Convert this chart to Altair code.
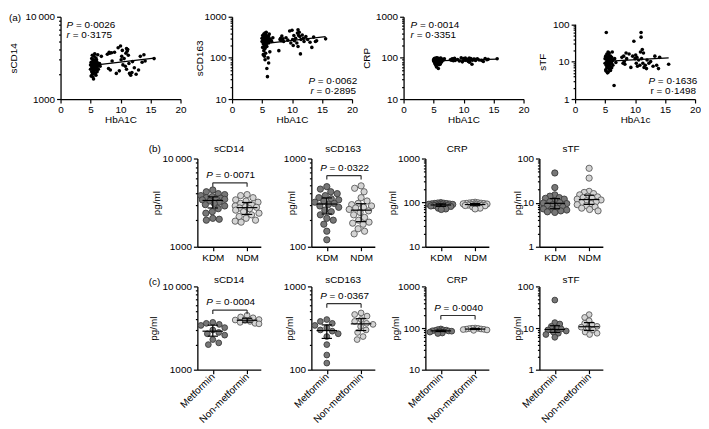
import math
import altair as alt
import pandas as pd

FONT = "Liberation Sans"
FS = 10
DARK_FILL, DARK_STROKE = "#777777", "#3a3a3a"
LIGHT_FILL, LIGHT_STROKE = "#d4d4d4", "#5a5a5a"
BR_COLOR = "#333333"

# ---------------- (a) correlation with HbA1C ----------------
hba1c = [5.0, 5.0, 5.1, 5.1, 5.2, 5.2, 5.2, 5.3, 5.3, 5.3, 5.4, 5.4, 5.4, 5.4, 5.5, 5.5, 5.5, 5.5, 5.5,
         5.6, 5.6, 5.6, 5.6, 5.7, 5.7, 5.7, 5.7, 5.8, 5.8, 5.8, 5.8, 5.9, 5.9, 5.9, 5.9, 6.0, 6.0, 6.0,
         6.1, 6.1, 6.1, 6.2, 6.2, 6.3, 6.3, 6.5, 6.6, 6.8,
         7.8, 8.0, 8.1, 8.2, 8.3, 8.5, 8.6, 9.3, 9.6, 9.8, 10.0, 10.1, 10.2, 10.3, 10.4, 10.6, 10.8,
         11.0, 11.0, 11.2, 11.3, 11.4, 11.5, 11.7, 11.9, 12.0, 12.3, 12.6, 13.0, 13.3, 13.6, 13.9, 14.1,
         15.6, 9.0, 10.9, 11.1]
a_sCD14 = [2300, 2600, 1900, 2800, 2450, 3100, 2150, 2700, 2000, 3400, 2550, 1850, 2900, 2350, 2650, 2200,
           3000, 2450, 1750, 2750, 2400, 3300, 2100, 2600, 2900, 2250, 3550, 2500, 2050, 2800, 2350, 2700,
           1950, 3150, 2450, 2600, 2250, 3000, 2400, 2800, 2150, 2550, 3450, 2650, 2300, 2700, 2500, 3300,
           3500, 2350, 3700, 3600, 2250, 3650, 2900, 2050, 4200, 2200, 4400, 3000, 3300, 3900, 2600, 3100,
           2500, 4100, 2300, 4000, 3400, 2700, 2050, 1950, 2100, 2850, 2400, 2000, 2250, 3300, 2800, 3450,
           2900, 3100, 3700, 3600, 3800]
a_sCD163 = [250, 300, 180, 350, 120, 280, 220, 380, 150, 300, 260, 110, 330, 200, 400, 240, 290, 170, 90, 310,
            230, 370, 130, 270, 350, 210, 420, 250, 55, 300, 190, 280, 35, 320, 240, 260, 100, 300, 230, 340,
            75, 260, 380, 290, 140, 270, 250, 310,
            150, 280, 300, 260, 340, 290, 250, 270, 450, 230, 470, 280, 200, 350, 260, 300, 230, 480, 190,
            420, 330, 125, 280, 360, 300, 250, 330, 280, 240, 180, 320, 250, 260, 290, 310, 400, 350]
a_CRP = [90, 85, 95, 80, 88, 98, 75, 92, 70, 96, 86, 65, 94, 82, 100, 84, 90, 78, 60, 93,
         86, 97, 72, 89, 95, 80, 99, 87, 55, 91, 83, 94, 68, 96, 85, 88, 76, 92, 84, 97,
         70, 88, 99, 86, 78, 92, 88, 95,
         90, 88, 95, 92, 85, 98, 86, 84, 100, 80, 97, 88, 93, 99, 87, 91, 82, 98, 78, 96,
         90, 70, 88, 94, 92, 86, 95, 89, 87, 82, 97, 90, 93, 95, 91, 98, 92]
a_sTF = [9, 12, 6, 14, 8, 60, 5.5, 11, 7, 16, 10, 5, 13, 8.5, 18, 9.5, 12, 7.5, 5.2, 11,
         9, 15, 6.5, 10, 13, 8, 17, 10.5, 6, 12, 8.8, 11.5, 5.8, 14, 9.2, 10, 7, 12.5, 9, 13,
         6.8, 10.5, 18, 11, 8, 2.3, 12, 9.5,
         13, 9, 14, 10, 8.5, 17, 12, 7, 14, 35, 12, 15, 9, 13, 7.5, 11, 8, 60, 45, 21, 9, 17, 7,
         8, 6.5, 11, 9, 10, 7.5, 14, 8, 6.5, 13, 8.5, 16, 18, 12]

a_names = ["sCD14", "sCD163", "CRP", "sTF"]
a_xtitle = ["HbA1C", "HbA1C", "HbA1C", "HbA1c"]
a_domain = [(1000, 10000), (10, 1000), (10, 1000), (1, 100)]
a_P = ["0·0026", "0·0062", "0·0014", "0·1636"]
a_r = ["0·3175", "0·2895", "0·3351", "0·1498"]
a_r_italic = [True, True, True, False]

# ---------------- (b) KDM vs NDM ----------------
b_groups = ["KDM", "NDM"]
b_sCD14 = ([4400, 4200, 4000, 3900, 3800, 3700, 3600, 3550, 3500, 3450, 3400, 3300, 3200, 3100, 3000, 2900,
            2700, 2500, 2400, 2100, 2050, 2000],
           [3900, 3800, 3600, 3400, 3300, 3200, 3100, 3000, 2900, 2850, 2800, 2750, 2700, 2600, 2500, 2400,
            2300, 2200, 2100, 2000, 1950, 1900])
b_sCD163 = ([480, 450, 420, 400, 380, 360, 350, 340, 330, 320, 310, 300, 290, 280, 260, 250, 230, 210, 200,
             180, 150, 120],
            [490, 460, 420, 360, 330, 310, 300, 290, 280, 275, 265, 255, 245, 230, 215, 200, 190, 185, 180,
             160, 150, 140])
b_CRP = ([100, 98, 97, 96, 95, 94, 93, 92, 91, 90, 89, 88, 87, 86, 85, 84, 82, 80, 78, 75, 72, 70],
         [102, 100, 99, 98, 97, 96, 95, 94, 93, 92, 91, 90, 89, 88, 87, 86, 85, 83, 80, 78, 75, 72])
b_sTF = ([47, 22, 15, 14, 13, 12.5, 12, 11, 10.5, 10, 9.8, 9.5, 9, 8.5, 8, 7.5, 7.2, 7, 6.8, 6.5, 6.2, 6],
         [60, 36, 18, 17, 16, 15, 14, 13.5, 13, 12.5, 12, 11.5, 11, 10.5, 10, 9.5, 9, 8.5, 8, 7.5, 7, 6.5])
b_bracket = [5300, 640, None, None]
b_P = ["0·0071", "0·0322", None, None]

# ---------------- (c) Metformin vs Non-metformin ----------------
c_groups = ["Metformin", "Non-metformin"]
c_sCD14 = ([3700, 3600, 3500, 3400, 3200, 3000, 2800, 2700, 2600, 2300, 2100, 2000],
           [4500, 4300, 4200, 4000, 3950, 3900, 3800, 3700, 3600, 3550])
c_sCD163 = ([400, 380, 360, 340, 320, 300, 290, 270, 250, 200, 150, 120],
            [480, 460, 440, 400, 380, 360, 350, 330, 300, 280, 250, 230])
c_CRP = ([95, 92, 90, 89, 88, 86, 85, 84, 83, 80, 76, 74],
         [100, 99, 98, 97, 95, 94, 93, 92, 90, 88])
c_sTF = ([47, 13.5, 12.5, 11, 10, 9.5, 9, 8.5, 8, 7.5, 7, 6],
         [21, 18, 15, 13, 12, 11, 10.5, 10, 9, 8, 7.5, 7])
c_bracket = [5200, 620, 200, None]
c_P = ["0·0004", "0·0367", "0·0040", None]

bc_names = ["sCD14", "sCD163", "CRP", "sTF"]
bc_domain = [(1000, 10000), (100, 1000), (10, 1000), (1, 100)]

# ---------------- layout ----------------
WA, HA, SA = 121, 83, 52
WB, HB, HC, SB = 64, 89, 84, 51
SPACER = 87           # offset of rows (b)/(c) relative to row (a)
XMIN, XMAX = -0.45, 1.4
a_tx = [-47, -33, -37, -33]
b_tx = [-41, -20, -33, -22]
c_tx = [-44, -22, -30, -22]

DEC = "abs(log(datum.value)/LN10 - round(log(datum.value)/LN10)) < 0.001"
LBL = ("(" + DEC + ") ? (datum.value >= 10000 ? replace(format(datum.value, ','), ',', '\u2009') "
       ": format(datum.value, 'd')) : ''")


def y_axis(lo, hi, title, tx, ty):
    vals = []
    e0, e1 = round(math.log10(lo)), round(math.log10(hi))
    for e in range(e0, e1):
        for m in range(1, 10):
            vals.append(m * 10 ** e)
    vals.append(hi)
    return alt.Axis(values=vals, labelExpr=LBL, labelOverlap=False,
                    tickSize={"condition": {"test": DEC, "value": 4}, "value": 2},
                    title=title, titleX=tx, titleY=ty, titleAngle=-90,
                    titleBaseline="middle", titleAlign="center")


def note(txt, x, y, italic=False, align="left", baseline="middle"):
    return alt.Chart(alt.Data(values=[{}])).mark_text(
        text=txt, font=FONT, fontSize=FS, fontStyle="italic" if italic else "normal",
        align=align, baseline=baseline, color="black").encode(x=alt.value(x), y=alt.value(y))


def bounds_rule(x, top, bottom):
    return alt.Chart(alt.Data(values=[{}])).mark_rule(opacity=0).encode(
        x=alt.value(x), y=alt.value(top), y2=alt.value(bottom))


df_a = pd.DataFrame({"hba1c": hba1c, "sCD14": a_sCD14, "sCD163": a_sCD163, "CRP": a_CRP, "sTF": a_sTF})

a_text_pos = [((6, 8), (6, 18)), ((WA - 44, 65), (WA - 42, 75)),
              ((7, 8), (7, 18)), ((WA - 47, 65), (WA - 45, 75))]


def panel_a(i):
    name = a_names[i]
    lo, hi = a_domain[i]
    top = 7.5 if name == "sTF" else 0
    ys = alt.Scale(type="log", domain=[lo, hi], nice=False, range=[HA, top])
    yax = y_axis(lo, hi, name, a_tx[i], (HA + top) / 2)
    xs = alt.Scale(domain=[0, 20], nice=False, zero=False)
    xax = alt.Axis(values=[0, 5, 10, 15, 20], title=a_xtitle[i], labelFlush=False, format="d",
                   titleX=WA / 2, titleY=21, titleBaseline="middle", tickSize=4)
    X = alt.X("hba1c:Q", scale=xs, axis=xax)
    Y = alt.Y(f"{name}:Q", scale=ys, axis=yax)
    base = alt.Chart(df_a)
    pts = base.mark_circle(size=13, color="black", opacity=1).encode(x=X, y=Y)
    fit = (base.transform_calculate(ly=f"log(datum['{name}'])/LN10")
           .transform_regression("hba1c", "ly")
           .transform_calculate(**{name: "pow(10, datum.ly)"})
           .mark_line(color="black", strokeWidth=1.3).encode(x=X, y=Y))
    (px, py), (rx, ry) = a_text_pos[i]
    layers = [pts, fit,
              note("P", px, py, italic=True), note("= " + a_P[i], px + 9.5, py),
              note("r", rx, ry, italic=a_r_italic[i]), note("= " + a_r[i], rx + 6.2, ry)]
    if i == 0:
        layers += [note("(a)", -52, 1), bounds_rule(0, -7, HA + 30)]
    return alt.layer(*layers).properties(width=WA, height=HA)


def swarm(vals, ppd, ppu, d, maxoff):
    idx = sorted(range(len(vals)), key=lambda k: -vals[k])
    placed = []
    out = [0.0] * len(vals)
    steps = [0.0]
    s = 0.5
    while s <= maxoff:
        steps += [s, -s]
        s += 0.5
    for n, i in enumerate(idx):
        y = math.log10(vals[i]) * ppd
        cands = steps if n % 2 == 0 else [-c for c in steps]
        chosen, best, bestd = None, 0.0, -1
        for c in cands:
            md = min([math.hypot(c - qx, y - qy) for qx, qy in placed] or [99])
            if md >= d:
                chosen = c
                break
            if md > bestd:
                bestd, best = md, c
        if chosen is None:
            chosen = best
        placed.append((chosen, y))
        out[i] = chosen / ppu
    return out


def spacer(row, H):
    top, bottom = (-30, H + 20) if row == "b" else (-20, H + 57)
    layers = [bounds_rule(SPACER / 2, top, bottom),
              note("(" + row + ")", SPACER + SB - 49, -10 if row == "b" else -4)]
    return alt.layer(*layers).properties(width=SPACER, height=H)


def dot_panel(row, i):
    if row == "b":
        data = [b_sCD14, b_sCD163, b_CRP, b_sTF][i]
        groups, H, tx = b_groups, HB, b_tx[i]
        bracket, ptxt = b_bracket[i], b_P[i]
        title_y, rot = -10, False
    else:
        data = [c_sCD14, c_sCD163, c_CRP, c_sTF][i]
        groups, H, tx = c_groups, HC, c_tx[i]
        bracket, ptxt = c_bracket[i], c_P[i]
        title_y, rot = -6, True
    lo, hi = bc_domain[i]
    ppd = H / math.log10(hi / lo)
    ppu = WB / (XMAX - XMIN)
    dmin = {"sCD14": 6.5, "sCD163": 6.5, "CRP": 2.6, "sTF": 5.0}[bc_names[i]]
    rows = []
    for g in (0, 1):
        vals = data[g]
        offs = swarm(vals, ppd, ppu, dmin, 12)
        for v, o in zip(vals, offs):
            rows.append({"g": g, "v": v, "x": g + o})
    df = pd.DataFrame(rows)
    ys = alt.Scale(type="log", domain=[lo, hi], nice=False)
    yax = y_axis(lo, hi, "pg/ml", tx, H / 2)
    xs = alt.Scale(domain=[XMIN, XMAX], nice=False, zero=False)
    lab = f"datum.value == 0 ? '{groups[0]}' : '{groups[1]}'"
    if rot:
        xax = alt.Axis(values=[0, 1], labelExpr=lab, title=None, labelFlush=False, tickSize=4,
                       labelAngle=-45, labelAlign="right", labelBaseline="middle", labelPadding=1)
    else:
        xax = alt.Axis(values=[0, 1], labelExpr=lab, title=None, labelFlush=False, tickSize=4)

    def X(f):
        return alt.X(f"{f}:Q", scale=xs, axis=xax)

    def Y(f):
        return alt.Y(f"{f}:Q", scale=ys, axis=yax)

    size = 40 if row == "b" else 34
    pts = alt.Chart(df).mark_circle(size=size, opacity=1, strokeWidth=0.9).encode(
        x=X("x"), y=Y("v"),
        fill=alt.Fill("g:N", scale=alt.Scale(domain=[0, 1], range=[DARK_FILL, LIGHT_FILL]), legend=None),
        stroke=alt.Stroke("g:N", scale=alt.Scale(domain=[0, 1], range=[DARK_STROKE, LIGHT_STROKE]),
                          legend=None))
    stats = (alt.Chart(df)
             .transform_aggregate(med="median(v)", q1="q1(v)", q3="q3(v)", groupby=["g"])
             .transform_calculate(m1="datum.g - 0.3", m2="datum.g + 0.3",
                                  c1="datum.g - 0.15", c2="datum.g + 0.15"))
    rk = dict(color="black", strokeWidth=1.2)
    med = stats.mark_rule(**rk).encode(x=X("m1"), x2="m2:Q", y=Y("med"))
    vert = stats.mark_rule(**rk).encode(x=X("g"), y=Y("q1"), y2="q3:Q")
    cap1 = stats.mark_rule(**rk).encode(x=X("c1"), x2="c2:Q", y=Y("q1"))
    cap3 = stats.mark_rule(**rk).encode(x=X("c1"), x2="c2:Q", y=Y("q3"))
    layers = [pts, med, vert, cap1, cap3,
              note(bc_names[i], WB / 2, title_y, align="center")]
    if bracket is not None:
        endf = 10 ** (-4.0 / ppd)
        bdf = pd.DataFrame({"x0": [0], "x1": [1], "xm": [0.5], "yb": [bracket]})
        edf = pd.DataFrame({"xe": [0, 1], "yb": [bracket] * 2, "ye": [bracket * endf] * 2})
        bl = alt.Chart(bdf).mark_rule(color=BR_COLOR, strokeWidth=1.2).encode(
            x=X("x0"), x2="x1:Q", y=Y("yb"))
        be = alt.Chart(edf).mark_rule(color=BR_COLOR, strokeWidth=1.2).encode(
            x=X("xe"), y=Y("yb"), y2="ye:Q")
        tP = alt.Chart(bdf).mark_text(text="P", font=FONT, fontSize=FS, fontStyle="italic",
                                      align="left", baseline="alphabetic", dx=-24, dy=-5,
                                      color="black").encode(x=X("xm"), y=Y("yb"))
        tV = alt.Chart(bdf).mark_text(text="= " + ptxt, font=FONT, fontSize=FS, align="left",
                                      baseline="alphabetic", dx=-14.5, dy=-5,
                                      color="black").encode(x=X("xm"), y=Y("yb"))
        layers += [bl, be, tP, tV]
    return alt.layer(*layers).properties(width=WB, height=H)


row_a = alt.hconcat(*[panel_a(i) for i in range(4)], spacing=SA, bounds="flush")
row_b = alt.hconcat(spacer("b", HB), *[dot_panel("b", i) for i in range(4)], spacing=SB, bounds="flush")
row_c = alt.hconcat(spacer("c", HC), *[dot_panel("c", i) for i in range(4)], spacing=SB, bounds="flush")

chart = (alt.vconcat(row_a, row_b, row_c, spacing=0)
         .properties(padding=0)
         .configure_view(stroke=None)
         .configure_axis(domainColor="black", domainWidth=1.3, tickColor="black", tickWidth=1.2,
                         labelColor="black", titleColor="black", labelFont=FONT, titleFont=FONT,
                         labelFontSize=FS, titleFontSize=FS, titleFontWeight="normal", grid=False,
                         labelPadding=2))

chart.save("out.html", embed_options={"renderer": "svg", "actions": False})
